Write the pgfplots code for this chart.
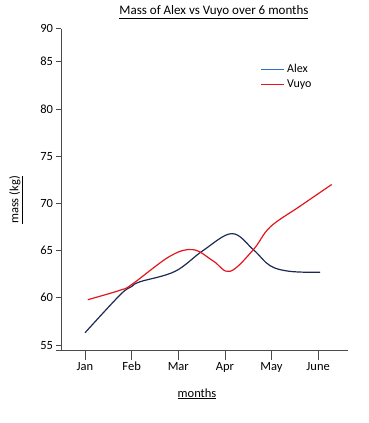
\documentclass[border=0pt]{standalone}
\usepackage{pgfplots}
\pgfplotsset{compat=1.18}
\usepackage{fontspec}
\setmainfont{Carlito}
\definecolor{navyline}{HTML}{1C2A52}
\definecolor{redline}{HTML}{E3161E}
\definecolor{legblue}{HTML}{2F72C0}
\definecolor{axisgrey}{HTML}{4A4A4A}
\pgfplotsset{mylegend/.style={legend image code/.code={\draw[##1] (0pt,0pt) -- (23pt,0pt);}}}
\begin{document}
\begin{tikzpicture}
\path[use as bounding box] (-61pt,-72.3pt) rectangle (307pt,350.7pt);
\begin{axis}[
  at={(0,0)}, anchor=south west,
  scale only axis, width=287pt, height=322pt,
  xmin=0.485, xmax=6.64, ymin=54.4, ymax=88.5,
  axis lines=left,
  axis line style={-, axisgrey, line width=0.9pt},
  x axis line style={shorten <=-5pt},
  xtick={1,...,6}, xticklabels={Jan,Feb,Mar,Apr,May,June},
  ytick={55,60,65,70,75,80,85,88.5}, yticklabels={55,60,65,70,75,80,85,90},
  extra x ticks={1,2,3,4,5,6}, extra x tick labels={},
  extra x tick style={tick style={yshift=-4.5pt}},
  tick align=outside, major tick length=4.5pt,
  tick style={axisgrey, line width=0.7pt},
  minor tick num=0,
  font=\fontsize{12.5}{14}\selectfont,
  ticklabel style={font=\fontsize{12.5}{14}\selectfont},
  xticklabel style={yshift=-4pt, text height=1.6ex, text depth=0.4ex},
  title={\underline{Mass of Alex vs Vuyo over 6 months}},
  title style={at={(axis description cs:0.533,1.033)}, anchor=center, font=\fontsize{13}{15}\selectfont},
  xlabel={\underline{months}},
  xlabel style={at={(axis description cs:0.474,-0.134)}, anchor=center},
  ylabel={\underline{mass (kg)}},
  ylabel style={at={(axis description cs:-0.157,0.468)}, anchor=center, rotate=0},
  legend style={draw=none, fill=none, at={(axis description cs:0.685,0.902)}, anchor=north west,
    font=\fontsize{12}{13}\selectfont, row sep=1.5pt},
  legend cell align=left,
]
\addplot[navyline, line width=1.2pt, smooth, tension=0.6, forget plot] coordinates {
  (1.00,56.3) (1.75,60.3) (2.00,61.2) (2.18,61.7) (2.93,62.8) (3.53,65.0)
  (4.15,66.8) (4.61,65.1) (4.97,63.4) (5.40,62.8) (6.04,62.7)
};
\addlegendimage{legblue, line width=1.3pt, mylegend}
\addlegendentry{Alex}
\addplot[redline, line width=1.2pt, smooth, tension=0.6, mylegend] coordinates {
  (1.06,59.8) (1.75,60.8) (2.00,61.4) (2.82,64.4) (3.32,65.1) (3.75,63.9)
  (4.11,62.8) (4.61,65.1) (4.97,67.5) (5.61,69.7) (6.29,72.0)
};
\addlegendentry{Vuyo}
\end{axis}
\end{tikzpicture}
\end{document}
